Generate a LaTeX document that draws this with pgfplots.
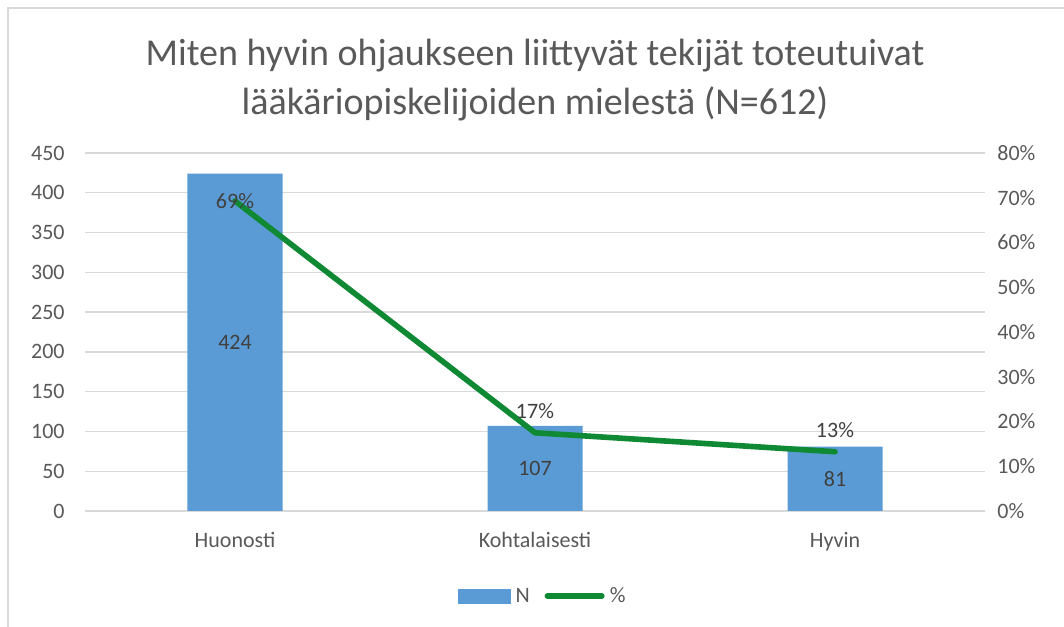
\documentclass[border=0pt]{standalone}
\usepackage{fontspec}
\setmainfont{Carlito}
\usepackage{pgfplots}
\pgfplotsset{compat=1.18}
\definecolor{barblue}{HTML}{5B9BD5}
\definecolor{linegreen}{RGB}{16,137,52}
\definecolor{gridgray}{HTML}{D9D9D9}
\definecolor{tickgray}{HTML}{595959}
\definecolor{labelgray}{HTML}{404040}
\begin{document}
\begin{tikzpicture}
\path[use as bounding box] (-63.75pt,-87pt) rectangle (734.25pt,383.25pt);
\draw[gridgray, line width=1pt] (-57.75pt,-95pt) rectangle (745pt,377.25pt);
\begin{axis}[
  at={(0,0)}, anchor=south west,
  scale only axis, width=675pt, height=268.5pt,
  xmin=-0.5, xmax=2.5, ymin=0, ymax=450,
  xtick={0,1,2}, xticklabels={Huonosti,Kohtalaisesti,Hyvin},
  ytick={0,50,100,150,200,250,300,350,400,450},
  axis x line*=bottom, axis y line*=left,
  axis line style={draw=none},
  major tick length=0pt,
  ymajorgrids, grid style={gridgray, line width=1pt},
  /pgf/number format/assume math mode=true,
  tick label style={font=\fontsize{16.5}{19}\selectfont, text=tickgray},
  yticklabel style={xshift=-11.75pt},
  xticklabel style={anchor=base, yshift=-27.75pt},
  clip=false,
]
\addplot[ybar, bar width=71.25pt, fill=barblue, draw=none] coordinates {(0,424) (1,107) (2,81)};
\addplot[draw=none, mark=none, nodes near coords, point meta=explicit symbolic,
  nodes near coords style={anchor=center, font=\fontsize{16.5}{19}\selectfont, text=labelgray}]
  table[meta=lab] {
x y lab
0 212 424
1 53.5 107
2 40.5 81
};
\end{axis}
\begin{axis}[
  at={(0,0)}, anchor=south west,
  scale only axis, width=675pt, height=268.5pt,
  xmin=-0.5, xmax=2.5, ymin=0, ymax=0.8,
  axis x line=none, axis y line*=right,
  axis line style={draw=none},
  major tick length=0pt,
  ytick={0,0.1,0.2,0.3,0.4,0.5,0.6,0.7,0.8},
  yticklabels={0\%,10\%,20\%,30\%,40\%,50\%,60\%,70\%,80\%},
  tick label style={font=\fontsize{16.5}{19}\selectfont, text=tickgray},
  yticklabel style={xshift=5.75pt},
  clip=false,
  legend columns=2,
  legend style={at={(0.509,-0.2374)}, anchor=center, draw=none, fill=none,
    font=\fontsize{16.5}{19}\selectfont, text=tickgray,
    /tikz/every even column/.append style={column sep=9pt},
    /tikz/every odd column/.append style={column sep=2pt}},
]
\addlegendimage{legend image code/.code={\fill[barblue] (0pt,-5.25pt) rectangle (39pt,5.25pt);}}
\addlegendentry{N}
\addplot[linegreen, line width=4.2pt, line join=round, line cap=round, mark=none,
  legend image code/.code={\draw[linegreen, line width=4pt, line cap=round] (0pt,0pt) -- (41pt,0pt);}]
  coordinates {(0,0.6928) (1,0.1748) (2,0.1324)};
\addlegendentry{\%}
\addplot[draw=none, mark=none, forget plot, nodes near coords, point meta=explicit symbolic,
  nodes near coords style={anchor=center, font=\fontsize{16.5}{19}\selectfont, text=labelgray}]
  table[meta=lab] {
x y lab
0 0.6928 69\%
};
\addplot[draw=none, mark=none, forget plot, nodes near coords, point meta=explicit symbolic,
  nodes near coords style={anchor=center, yshift=16pt, font=\fontsize{16.5}{19}\selectfont, text=labelgray}]
  table[meta=lab] {
x y lab
1 0.1748 17\%
2 0.1324 13\%
};
\end{axis}
\node[anchor=base, font=\fontsize{28.5}{34}\selectfont, text=tickgray] at (337.5pt,334pt) {Miten hyvin ohjaukseen liittyvät tekijät toteutuivat};
\node[anchor=base, font=\fontsize{28.5}{34}\selectfont, text=tickgray] at (337.5pt,297pt) {lääkäriopiskelijoiden mielestä (N=612)};
\end{tikzpicture}
\end{document}
